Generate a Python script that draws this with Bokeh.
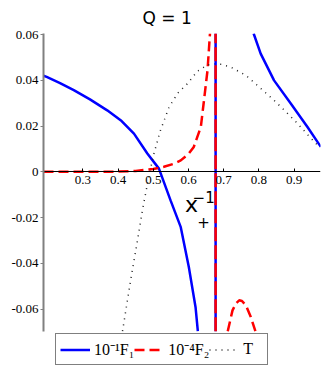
from bokeh.plotting import figure
from bokeh.models import (Range1d, FixedTicker, CustomJSTickFormatter, Label,
                          Legend, LegendItem, LinearAxis)
from bokeh.embed import file_html
from bokeh.resources import INLINE

# ---- data ----
asymptote = 0.677
y_lo, y_hi = -0.0697, 0.0605   # extent of the drawn y axis

f1_left_x = [0.188, 0.197, 0.235, 0.274, 0.320, 0.369, 0.410, 0.445, 0.483, 0.516,
             0.549, 0.578, 0.601, 0.620, 0.6265]
f1_left_y = [0.0420, 0.0415, 0.0388, 0.0357, 0.0317, 0.0269, 0.0222, 0.0167, 0.0080, 0.0014,
             -0.0125, -0.0242, -0.0417, -0.0592, -0.0697]
f1_right_x = [0.785, 0.805, 0.843, 0.891, 0.938, 0.976]
f1_right_y = [0.0605, 0.0517, 0.0400, 0.0298, 0.0196, 0.0109]

f2_left_x = [0.188, 0.300, 0.400, 0.450, 0.500, 0.530, 0.560, 0.578, 0.600, 0.615,
             0.635, 0.643, 0.654, 0.661]
f2_left_y = [0.0, 0.0, 0.0001, 0.0004, 0.0012, 0.0022, 0.0036, 0.0050, 0.0078, 0.0109,
             0.0196, 0.0300, 0.0444, 0.0605]
f2_right_x = [0.7115, 0.725, 0.735, 0.744, 0.752, 0.763, 0.777, 0.790]
f2_right_y = [-0.0697, -0.0606, -0.0575, -0.0562, -0.0565, -0.0584, -0.0635, -0.0697]

t_x = [0.4125, 0.436, 0.455, 0.470, 0.485, 0.500, 0.520, 0.545, 0.570, 0.598, 0.625,
       0.655, 0.675, 0.692, 0.720, 0.763, 0.800, 0.843, 0.875, 0.910, 0.940, 0.971]
t_y = [-0.0697, -0.0470, -0.0300, -0.0160, -0.0040, 0.0070, 0.0180, 0.0284, 0.0345, 0.0387,
       0.0440, 0.0468, 0.0472, 0.0470, 0.0458, 0.0422, 0.0372, 0.0313, 0.0265, 0.0211,
       0.0160, 0.0109]

x_ticks = [0.3, 0.4, 0.5, 0.6, 0.7, 0.8, 0.9]
y_ticks = [-0.06, -0.04, -0.02, 0.0, 0.02, 0.04, 0.06]

legend_labels = ["10⁻¹F₁", "10⁻⁴F₂", "T"]
title_text = "Q = 1"

BLUE = "#0000ff"
RED = "#ff0000"
SERIF = "Liberation Serif"

# the frame reaches down to the window bottom so the legend can sit under the curves
p = figure(width=327, height=373,
           x_range=Range1d(0.188, 0.975), y_range=Range1d(-0.0882, y_hi),
           output_backend="svg", toolbar_location=None,
           min_border_left=43, min_border_right=7, min_border_top=33, min_border_bottom=0,
           x_axis_location=None, title=title_text)
p.title.text_font = "DejaVu Sans"
p.title.text_font_size = "17px"
p.title.text_font_style = "normal"
p.title.text_color = "black"
p.title.align = "left"
p.title.offset = 99
p.title.standoff = 11

p.grid.visible = False
p.outline_line_color = None
p.background_fill_color = "white"
p.border_fill_color = "white"

# x axis through y = 0
xax = LinearAxis(fixed_location=0)
p.add_layout(xax, "below")
xax.ticker = FixedTicker(ticks=x_ticks)
xax.formatter = CustomJSTickFormatter(code="return tick.toFixed(1);")
xax.axis_line_color = "black"
xax.axis_line_width = 1.2
xax.major_tick_in = 3
xax.major_tick_out = 0
xax.minor_tick_line_color = None
xax.major_label_text_font = SERIF
xax.major_label_text_font_size = "13px"
xax.major_label_text_color = "black"
xax.major_label_standoff = 4

p.yaxis.bounds = (y_lo, y_hi)
p.yaxis.ticker = FixedTicker(ticks=y_ticks)
p.yaxis.formatter = CustomJSTickFormatter(code="return tick == 0 ? '0' : tick.toFixed(2);")
p.yaxis.axis_line_color = "#808080"
p.yaxis.axis_line_width = 2
p.yaxis.major_tick_in = 0
p.yaxis.major_tick_out = 3
p.yaxis.major_tick_line_color = "#808080"
p.yaxis.minor_tick_line_color = None
p.yaxis.major_label_text_font = SERIF
p.yaxis.major_label_text_font_size = "13px"
p.yaxis.major_label_text_color = "black"
p.yaxis.major_label_standoff = 2

# curves
r1a = p.line(f1_left_x, f1_left_y, line_color=BLUE, line_width=2.5)
p.line(f1_right_x, f1_right_y, line_color=BLUE, line_width=2.5)
r2a = p.line(f2_left_x, f2_left_y, line_color=RED, line_width=2.5, line_dash="10 5")
p.line(f2_right_x, f2_right_y, line_color=RED, line_width=2.5, line_dash="10 5")
r3 = p.line(t_x, t_y, line_color="#222222", line_width=1.5, line_dash="1 5")

# asymptote: blue solid with red dashes over it
p.segment(x0=[asymptote], y0=[y_lo], x1=[asymptote], y1=[y_hi], line_color=BLUE, line_width=2.5)
p.segment(x0=[asymptote], y0=[y_lo], x1=[asymptote], y1=[y_hi], line_color=RED, line_width=2.5,
          line_dash="14 4")

# asymptote label x_+^{-1}
p.add_layout(Label(x=asymptote, y=0, x_offset=-24, y_offset=-33, text="x",
                   text_font="DejaVu Sans", text_font_size="22px", text_color="black",
                   text_align="center", text_baseline="middle"))
p.add_layout(Label(x=asymptote, y=0, x_offset=-12, y_offset=-25, text="−1",
                   text_font="DejaVu Sans", text_font_size="15px", text_color="black",
                   text_align="center", text_baseline="middle"))
p.add_layout(Label(x=asymptote, y=0, x_offset=-12, y_offset=-50, text="+",
                   text_font="DejaVu Sans", text_font_size="15px", text_color="black",
                   text_align="center", text_baseline="middle"))

legend = Legend(items=[LegendItem(label=legend_labels[0], renderers=[r1a]),
                       LegendItem(label=legend_labels[1], renderers=[r2a]),
                       LegendItem(label=legend_labels[2], renderers=[r3])],
                orientation="horizontal", location=(12, 8),
                label_text_font=SERIF, label_text_font_size="16px", label_text_color="black",
                glyph_width=30, glyph_height=19, label_standoff=4, spacing=0,
                padding=4, margin=0, border_line_color="black", border_line_width=1.2,
                label_height=19)
p.add_layout(legend)

open("out.html", "w").write(file_html(p, INLINE))
